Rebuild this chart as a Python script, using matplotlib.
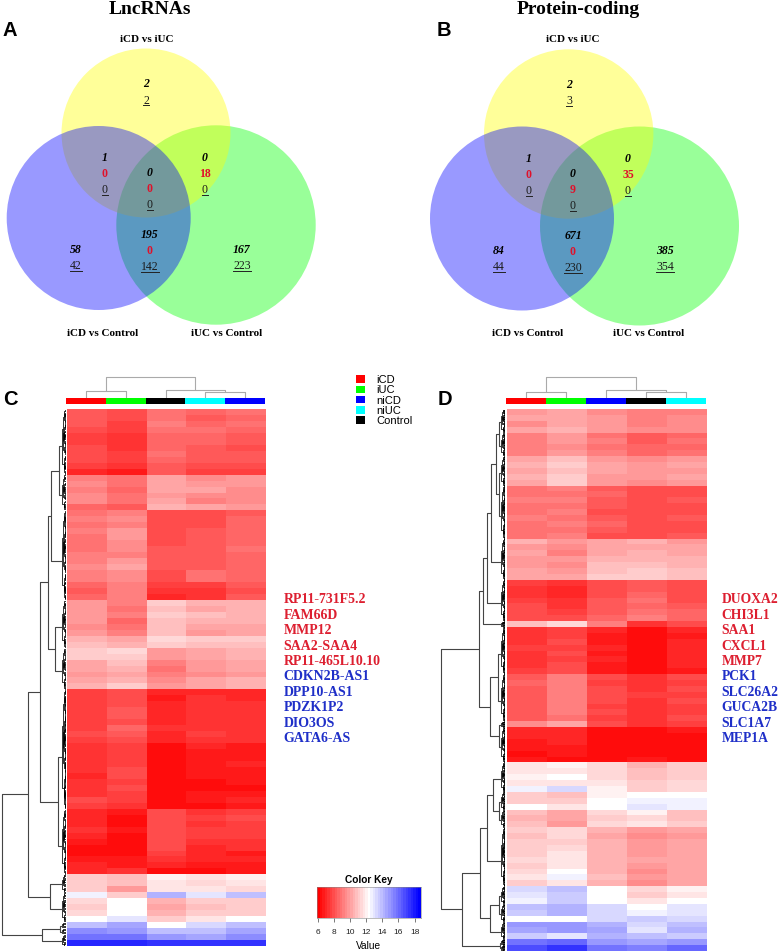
import matplotlib
matplotlib.use("Agg")
import matplotlib.pyplot as plt
import numpy as np
from matplotlib.colors import LinearSegmentedColormap
from matplotlib.patches import Circle, Rectangle

# venn counts: (italic, red, underlined); None where the region has only two numbers
venn_a_top = ["2", None, "2"]
venn_a_top_left = ["1", "0", "0"]
venn_a_top_right = ["0", "18", "0"]
venn_a_centre = ["0", "0", "0"]
venn_a_bottom = ["195", "0", "142"]
venn_a_left = ["58", None, "42"]
venn_a_right = ["167", None, "223"]

venn_b_top = ["2", None, "3"]
venn_b_top_left = ["1", "0", "0"]
venn_b_top_right = ["0", "35", "0"]
venn_b_centre = ["0", "9", "0"]
venn_b_bottom = ["671", "0", "230"]
venn_b_left = ["84", None, "44"]
venn_b_right = ["385", None, "354"]

groups = ["iCD", "iUC", "niCD", "niUC", "Control"]
group_colors = ["#ff0000", "#00ff00", "#0000ff", "#00ffff", "#000000"]
order_c = ["iCD", "iUC", "Control", "niUC", "niCD"]
order_d = ["iCD", "iUC", "niCD", "Control", "niUC"]

genes_c = ["RP11-731F5.2", "FAM66D", "MMP12", "SAA2-SAA4", "RP11-465L10.10",
           "CDKN2B-AS1", "DPP10-AS1", "PDZK1P2", "DIO3OS", "GATA6-AS"]
genes_d = ["DUOXA2", "CHI3L1", "SAA1", "CXCL1", "MMP7",
           "PCK1", "SLC26A2", "GUCA2B", "SLC1A7", "MEP1A"]

# expression rows, columns in the order of order_c / order_d
rows_c = [
    [8.3, 8.0, 9.0, 8.6, 8.8], [8.3, 7.9, 9.0, 8.4, 8.7], [8.2, 7.7, 9.1, 8.7, 8.8],
    [7.9, 7.5, 8.9, 8.8, 8.5], [7.7, 7.4, 8.7, 8.7, 8.3], [7.7, 7.2, 8.7, 8.5, 8.2],
    [7.9, 7.4, 8.5, 8.2, 7.9], [8.0, 7.6, 8.8, 8.4, 8.2], [7.8, 7.5, 8.7, 8.4, 8.3],
    [7.6, 7.2, 8.4, 8.0, 8.0], [7.1, 6.8, 8.2, 7.7, 7.5],
    [9.3, 9.0, 10.0, 9.5, 9.7], [9.4, 8.8, 10.2, 9.7, 9.9], [9.3, 8.7, 10.0, 10.0, 9.6],
    [9.5, 9.0, 9.9, 9.6, 9.4], [9.4, 8.9, 10.1, 9.3, 9.5], [8.5, 8.2, 10.5, 10.1, 9.8],
    [9.0, 9.2, 7.8, 7.9, 8.4], [9.1, 9.4, 7.9, 8.1, 8.5], [9.0, 9.3, 8.0, 8.0, 8.5],
    [9.2, 9.7, 8.0, 8.2, 8.7], [9.0, 9.7, 8.1, 8.3, 8.7], [9.0, 9.4, 8.1, 8.2, 8.6],
    [8.9, 9.4, 8.2, 8.3, 8.8], [9.1, 9.3, 8.3, 8.4, 8.6], [9.3, 9.8, 8.2, 8.4, 8.7],
    [9.4, 10.0, 8.3, 8.4, 8.7], [9.3, 9.6, 7.9, 8.8, 8.6], [9.1, 9.5, 7.8, 8.9, 8.5],
    [8.5, 9.2, 7.5, 7.7, 8.2], [8.3, 9.1, 7.2, 7.3, 8.1], [8.5, 9.2, 7.1, 7.4, 8.2],
    [9.9, 9.1, 11.1, 10.4, 10.4], [9.8, 9.0, 10.9, 10.2, 10.4], [9.8, 9.1, 11.0, 10.9, 10.6],
    [9.7, 8.6, 10.8, 10.6, 10.5], [9.6, 9.0, 10.8, 10.1, 10.2], [9.7, 9.2, 10.7, 9.9, 10.3],
    [10.6, 10.2, 11.3, 11.0, 11.0], [10.8, 10.5, 11.2, 10.7, 10.9],
    [11.0, 11.5, 9.8, 10.3, 10.5], [11.2, 11.0, 9.7, 10.0, 10.4], [10.2, 10.7, 9.2, 9.7, 10.1],
    [10.0, 10.4, 8.9, 9.8, 10.0], [9.9, 10.2, 9.1, 9.6, 9.9], [10.2, 10.5, 9.4, 10.0, 10.4],
    [10.4, 11.1, 9.8, 10.2, 10.6],
    [7.6, 8.0, 6.9, 7.1, 7.1], [7.7, 7.9, 6.8, 7.2, 7.1], [7.7, 8.0, 7.0, 7.3, 7.2],
    [7.6, 8.2, 6.9, 7.3, 7.2], [7.6, 8.4, 7.1, 7.4, 7.3], [7.5, 8.0, 7.0, 7.2, 7.2],
    [7.7, 8.5, 7.2, 7.4, 7.4], [7.8, 8.2, 7.1, 7.5, 7.3], [7.6, 7.9, 7.0, 7.3, 7.2],
    [7.2, 7.7, 6.5, 6.9, 6.8], [7.2, 7.5, 6.4, 6.7, 6.8], [7.4, 7.7, 6.5, 6.6, 6.7],
    [7.3, 7.5, 6.5, 6.8, 6.9], [7.4, 7.8, 6.4, 6.6, 6.6], [7.1, 8.0, 6.3, 6.7, 6.8],
    [7.2, 7.5, 6.4, 6.5, 6.7], [7.4, 7.9, 6.3, 6.5, 6.4], [7.3, 7.6, 6.3, 6.6, 6.8],
    [8.1, 7.7, 6.5, 6.8, 6.9], [7.6, 7.4, 6.4, 6.5, 6.6],
    [7.1, 6.6, 7.8, 7.4, 7.7], [6.9, 6.4, 7.9, 7.6, 7.8], [7.0, 6.5, 8.0, 7.2, 7.5],
    [7.2, 6.6, 8.0, 7.7, 7.6], [6.9, 6.5, 7.9, 7.5, 7.7], [6.6, 6.4, 7.8, 7.4, 7.3],
    [6.4, 6.3, 7.9, 7.1, 7.2], [6.5, 6.4, 7.7, 6.9, 6.8], [6.7, 6.6, 7.4, 7.0, 7.0],
    [7.0, 6.7, 6.9, 6.7, 6.8], [7.1, 7.3, 6.5, 6.5, 6.6],
    [11.2, 10.9, 12.1, 11.6, 12.0], [11.1, 10.7, 11.8, 11.4, 11.6], [11.0, 9.7, 11.7, 11.6, 11.3],
    [12.8, 11.1, 14.3, 12.9, 13.8], [11.4, 12.4, 10.4, 11.1, 11.2], [11.2, 12.3, 10.3, 10.8, 11.0],
    [11.3, 12.2, 10.5, 11.0, 11.2], [12.4, 13.0, 11.2, 11.7, 12.2],
    [13.8, 14.6, 12.5, 13.2, 13.8], [15.2, 14.9, 14.0, 13.8, 14.5], [15.9, 15.7, 15.0, 14.7, 15.2],
    [17.8, 17.8, 17.4, 17.3, 17.4],
]

rows_d = [
    [9.7, 10.1, 9.6, 9.1, 9.3], [10.0, 10.3, 9.8, 9.2, 9.5], [9.6, 10.2, 9.9, 9.3, 9.6],
    [10.2, 10.5, 9.8, 9.4, 9.6],
    [9.1, 9.7, 8.9, 8.4, 8.7], [9.2, 9.8, 9.1, 8.4, 8.8], [9.1, 9.6, 8.9, 8.6, 8.7],
    [9.3, 9.7, 9.1, 8.5, 8.8],
    [10.2, 10.7, 9.8, 9.6, 9.9], [10.4, 11.0, 10.0, 9.9, 10.0], [10.3, 10.9, 10.1, 9.7, 9.9],
    [10.4, 11.0, 9.9, 9.8, 10.1], [10.2, 11.2, 9.8, 9.4, 9.7],
    [9.0, 9.1, 8.3, 7.9, 8.0], [8.9, 9.0, 8.5, 7.8, 8.1], [9.1, 9.2, 8.2, 8.0, 8.2],
    [8.8, 9.0, 8.4, 8.1, 8.0], [8.9, 9.1, 8.1, 7.9, 8.1], [9.1, 9.0, 8.3, 7.8, 8.2],
    [8.9, 9.2, 8.5, 8.1, 8.1], [8.8, 9.0, 8.2, 7.8, 8.0], [9.0, 9.1, 8.1, 8.0, 8.2],
    [10.4, 9.8, 10.0, 10.4, 9.9], [9.8, 9.5, 10.0, 10.3, 10.0], [10.0, 9.3, 10.1, 10.4, 10.2],
    [9.9, 9.7, 10.5, 10.6, 10.5], [9.9, 9.5, 10.7, 10.9, 10.6], [10.1, 9.8, 10.8, 11.0, 10.8],
    [10.3, 10.1, 11.0, 11.1, 10.7],
    [7.6, 7.3, 8.0, 8.3, 7.9], [7.3, 7.1, 8.1, 8.4, 8.0], [7.2, 6.9, 8.0, 8.5, 8.1],
    [7.7, 7.4, 8.3, 8.8, 8.1], [7.8, 7.4, 8.2, 8.6, 8.4], [7.9, 7.7, 8.4, 9.0, 8.7],
    [8.1, 7.8, 8.6, 9.1, 8.5],
    [10.8, 11.5, 9.2, 7.4, 7.8],
    [7.4, 7.6, 6.9, 6.5, 6.9], [7.4, 7.7, 6.8, 6.4, 6.8], [7.2, 7.9, 6.8, 6.5, 6.9],
    [7.5, 7.7, 7.0, 6.4, 7.0], [7.4, 7.8, 6.8, 6.4, 6.9], [7.4, 7.7, 6.9, 6.5, 6.9],
    [7.3, 8.0, 6.8, 6.4, 6.9], [7.5, 7.8, 6.6, 6.4, 6.8],
    [8.3, 9.2, 7.8, 7.4, 7.8], [8.5, 9.1, 7.7, 7.3, 7.6], [8.3, 9.3, 7.8, 7.4, 7.8],
    [8.2, 9.2, 7.9, 7.5, 7.7], [8.4, 9.3, 7.8, 7.4, 7.9], [8.2, 9.1, 7.6, 7.3, 7.7],
    [8.4, 9.1, 7.9, 7.2, 7.6], [8.3, 9.0, 7.7, 7.4, 7.8],
    [9.4, 10.0, 7.8, 7.4, 7.7],
    [6.9, 7.1, 6.4, 6.5, 6.6], [7.0, 7.0, 6.5, 6.4, 6.5], [6.8, 7.0, 6.4, 6.4, 6.4],
    [6.6, 6.8, 6.3, 6.3, 6.4], [6.5, 6.6, 6.4, 6.5, 6.4], [6.7, 6.5, 6.5, 6.7, 6.5],
    [11.7, 11.9, 11.3, 10.6, 11.0], [11.6, 11.8, 11.4, 10.7, 11.0], [12.0, 12.2, 11.4, 10.9, 11.2],
    [11.7, 11.7, 11.7, 11.1, 11.3], [12.8, 13.2, 12.0, 11.0, 11.5],
    [11.0, 10.7, 12.0, 12.5, 12.3], [11.2, 11.0, 12.3, 12.8, 12.6], [12.2, 11.6, 12.5, 13.0, 12.7],
    [10.7, 10.3, 11.4, 12.0, 10.8], [10.6, 10.2, 11.1, 11.4, 10.7], [10.9, 9.8, 11.4, 11.6, 11.0],
    [11.1, 11.4, 10.4, 9.7, 10.1], [10.9, 11.3, 10.2, 9.6, 9.9], [11.2, 11.2, 10.4, 9.8, 10.0],
    [11.0, 11.5, 10.5, 9.9, 10.2], [11.1, 11.6, 10.4, 9.8, 10.1], [11.3, 11.7, 10.6, 10.0, 10.3],
    [11.0, 11.8, 10.4, 9.7, 10.0], [11.4, 12.3, 10.5, 9.6, 10.0], [11.7, 12.6, 10.7, 9.7, 10.2],
    [11.2, 11.7, 10.5, 9.6, 10.0],
    [13.4, 13.8, 12.4, 11.4, 11.9], [13.1, 13.6, 12.3, 11.2, 11.8], [12.8, 13.6, 12.5, 11.7, 12.2],
    [13.9, 14.2, 13.3, 12.5, 12.9], [13.7, 14.3, 13.4, 12.7, 13.1], [12.5, 12.2, 13.3, 13.6, 13.2],
    [14.9, 14.8, 14.3, 13.4, 14.0], [14.4, 15.0, 14.6, 13.1, 14.2], [13.5, 12.9, 14.2, 14.0, 13.6],
    [15.9, 16.2, 15.0, 14.6, 15.0], [16.9, 17.3, 15.8, 15.6, 16.1],
]

# dendrograms: [height, upper branch, lower branch], an int is a block of that many rows
row_tree_c = [64,
              [38,
               [26,
                [18, [15, [7, 11, 6], 15], [11, 8, 7]],
                [8, 20, 11]],
               [16, 3, 5]],
              [24, [6, 1, 1], 2]]
row_tree_d = [64,
              [26,
               [22, [18, [14, [9, [6, 4, 4], [6, 5, 9]], 7], 7], 1],
               [15, [7, 8, 8], [6, 1, 6]]],
              [43,
               [25,
                [18, [12, 5, [6, 3, 3]], 10],
                [15, [6, 3, 3], 3]],
               [5, 1, 1]]]
col_tree_c = [21, [7, 0, 1], [8, 2, [6, 3, 4]]]
col_tree_d = [21, [6, 0, 1], [8.5, 2, [6, 3, 4]]]

W, H = 778, 953
SERIF = "Liberation Serif"
SANS = "Liberation Sans"
RED_TEXT = "#dd1f30"
BLUE_TEXT = "#1f2fc8"

heat_cmap = LinearSegmentedColormap.from_list("rwb", ["#ff0000", "#ffffff", "#0000ff"], N=41)
VMIN, VMAX = 5.9, 18.8


def pixel_axes(fig, left, top, right, bottom, zorder=1):
    ax = fig.add_axes([left / W, 1 - bottom / H, (right - left) / W, (bottom - top) / H], zorder=zorder)
    ax.axis("off")
    return ax


def draw_link(ax, p1, h1, p2, h2, h, vertical, color, lw):
    hs = [h1, h, h, h2]
    ps = [p1, p1, p2, p2]
    if vertical:
        ax.plot(hs, ps, color=color, lw=lw, solid_capstyle="butt")
    else:
        ax.plot(ps, hs, color=color, lw=lw, solid_capstyle="butt")


def draw_fringe(ax, lo, hi, span, top, leaf, flip=False):
    # lopsided little branches next to the heatmap, jagged like the real thing
    if hi - lo <= leaf:
        return (lo + hi) / 2, 0
    mid = lo + (hi - lo) * (0.3 if flip else 0.7)
    p1, h1 = draw_fringe(ax, lo, mid, span, top, leaf, not flip)
    p2, h2 = draw_fringe(ax, mid, hi, span, top, leaf, not flip)
    h = top * ((hi - lo) / span) ** 0.45
    draw_link(ax, p1, h1, p2, h2, h, True, "black", 0.55)
    return (p1 + p2) / 2, h


def draw_row_tree(ax, node, start, top, leaf):
    if isinstance(node, int):
        p, h = draw_fringe(ax, start - 0.5, start + node - 0.5, node, top, leaf)
        return p, h, start + node
    p1, h1, nxt = draw_row_tree(ax, node[1], start, top, leaf)
    p2, h2, nxt = draw_row_tree(ax, node[2], nxt, top, leaf)
    draw_link(ax, p1, h1, p2, h2, node[0], True, "#444444", 0.8)
    return (p1 + p2) / 2, node[0], nxt


def draw_col_tree(ax, node):
    if not isinstance(node, list):
        return node, 0
    p1, h1 = draw_col_tree(ax, node[1])
    p2, h2 = draw_col_tree(ax, node[2])
    draw_link(ax, p1, h1, p2, h2, node[0], False, "#aaaaaa", 0.8)
    return (p1 + p2) / 2, node[0]


def heatmap_panel(fig, rows, order, row_tree, col_tree, x0, x1, tree_left, tree_right, tree_max, y1, leaf):
    values = np.array(rows)
    n = len(values)

    heat = pixel_axes(fig, x0, 410, x1, y1)
    heat.imshow(values, cmap=heat_cmap, vmin=VMIN, vmax=VMAX, aspect="auto", interpolation="nearest")

    bar = pixel_axes(fig, x0 - 1, 399, x1 - 1, 405)
    for i, name in enumerate(order):
        bar.barh(0, 1, left=i - 0.5, height=1, color=group_colors[groups.index(name)])
    bar.set_xlim(-0.5, 4.5)
    bar.set_ylim(-0.5, 0.5)

    top = pixel_axes(fig, x0 - 1, 375, x1 - 1, 399)
    draw_col_tree(top, col_tree)
    top.set_xlim(-0.5, 4.5)
    top.set_ylim(0, 24)

    side = pixel_axes(fig, tree_left, 410, tree_right, y1)
    draw_row_tree(side, row_tree, 0, 4.0, leaf)
    side.set_xlim(tree_max, 0)
    side.set_ylim(n - 0.5, -0.5)


def venn(bg, circles, regions, names):
    # green goes first, then yellow, then blue, which gives the mixed colours
    for (cx, cy, r), color in zip(circles, ["#00ff00", "#ffff00", "#0000ff"]):
        bg.add_patch(Circle((cx, cy), r, facecolor=color, alpha=0.4, edgecolor="none", zorder=1))
    underlines = []
    for (x, y), (italic, red, under) in regions:
        bg.text(x, y, italic, family=SERIF, weight="bold", style="italic", fontsize=8.5,
                ha="center", va="center", zorder=3)
        if red is not None:
            bg.text(x, y + 16.2, red, family=SERIF, weight="bold", fontsize=8.5, color="#e0102a",
                    ha="center", va="center", zorder=3)
        dy = 32.4 if red is not None else 16.5
        t = bg.text(x, y + dy, under, family=SERIF, fontsize=8.5, color="#1a1a1a",
                    ha="center", va="center", zorder=3)
        underlines.append((t, y + dy + 5.6))
    for (x, y), name in names:
        bg.text(x, y, name, family=SERIF, weight="bold", fontsize=8, ha="center", va="center", zorder=3)
    return underlines


fig = plt.figure(figsize=(W / 100, H / 100), dpi=100, facecolor="white")
bg = pixel_axes(fig, 0, 0, W, H, zorder=0)
bg.set_xlim(0, W)
bg.set_ylim(H, 0)

lines = venn(bg,
             [(216, 226, 99.7), (146, 134, 84.5), (98.7, 219, 92)],
             [((146, 84), venn_a_top), ((105, 158), venn_a_top_left), ((205, 158), venn_a_top_right),
              ((150, 173), venn_a_centre), ((150, 235), venn_a_bottom), ((76, 250), venn_a_left),
              ((242, 250), venn_a_right)],
             [((147, 39), "iCD vs iUC"), ((103, 334), "iCD vs Control"), ((227, 334), "iUC vs Control")])
lines += venn(bg,
              [(639.5, 227, 99.5), (568.7, 135, 84.7), (522, 219.5, 92)],
              [((569, 85), venn_b_top), ((529, 159), venn_b_top_left), ((628, 159), venn_b_top_right),
               ((573, 174), venn_b_centre), ((573, 236), venn_b_bottom), ((499, 251), venn_b_left),
               ((665, 251), venn_b_right)],
              [((573, 39), "iCD vs iUC"), ((528, 334), "iCD vs Control"), ((649, 334), "iUC vs Control")])

# underlines need the text width, so ask the renderer
renderer = fig.canvas.get_renderer()
for t, y in lines:
    ext = t.get_window_extent(renderer)
    bg.plot([ext.x0, ext.x1], [y, y], color="#222222", lw=0.7, zorder=3)

bg.text(150, 9, "LncRNAs", family=SERIF, weight="bold", fontsize=14, ha="center", va="center")
bg.text(578, 9, "Protein-coding", family=SERIF, weight="bold", fontsize=14, ha="center", va="center")
for letter, x, y in [("A", 3, 30), ("B", 437, 30), ("C", 3, 400), ("D", 438, 400)]:
    bg.text(x, y, letter, family=SANS, weight="bold", fontsize=14.5, ha="left", va="center")

heatmap_panel(fig, rows_c, order_c, row_tree_c, col_tree_c, 67, 266, 0, 66, 66, 947, 0.4)
heatmap_panel(fig, rows_d, order_d, row_tree_d, col_tree_d, 507, 707, 440, 505, 65, 952, 0.2)

# group legend
for i, (name, color) in enumerate(zip(groups, group_colors)):
    y = 380 + i * 10.3
    bg.add_patch(Rectangle((356, y - 3.8), 9, 7.6, facecolor=color, edgecolor="none"))
    bg.text(376, y, name, family=SANS, fontsize=8, ha="left", va="center")

# gene labels
for i, name in enumerate(genes_c):
    bg.text(283.5, 600 + i * 15.4, name, family=SERIF, weight="bold", fontsize=10,
            color=RED_TEXT if i < 5 else BLUE_TEXT, ha="left", va="center")
for i, name in enumerate(genes_d):
    bg.text(721.5, 600 + i * 15.4, name, family=SERIF, weight="bold", fontsize=9.8,
            color=RED_TEXT if i < 5 else BLUE_TEXT, ha="left", va="center")

# colour key
key = fig.add_axes([317 / W, 1 - 919 / H, 104 / W, 31 / H], zorder=2)
key.imshow(np.linspace(VMIN, VMAX, 41)[None, :], cmap=heat_cmap, vmin=VMIN, vmax=VMAX, aspect="auto",
           extent=[VMIN, VMAX, 0, 1], interpolation="nearest")
key.set_yticks([])
key.set_xticks([6, 8, 10, 12, 14, 16, 18])
key.tick_params(axis="x", length=3, width=0.5, labelsize=6, pad=4, color="#444444", labelcolor="#222222")
for label in key.get_xticklabels():
    label.set_family(SANS)
for s in key.spines.values():
    s.set_linewidth(0.4)
    s.set_color("#888888")
bg.text(369, 880, "Color Key", family=SANS, weight="bold", fontsize=7.3, ha="center", va="center")
bg.text(369, 946, "Value", family=SANS, fontsize=7.3, ha="center", va="center")

fig.savefig("out.png", dpi=100)
